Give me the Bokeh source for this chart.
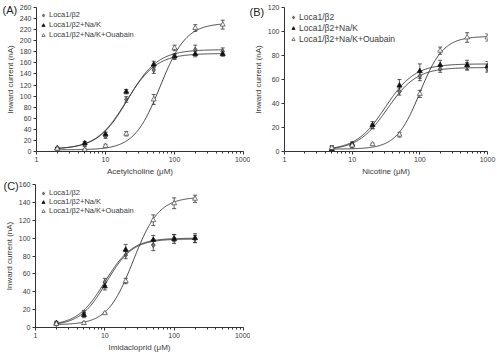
import numpy as np
from bokeh.plotting import figure
from bokeh.layouts import column, row
from bokeh.models import (ColumnDataSource, Whisker, TeeHead, Legend, LegendItem,
                          Title, FixedTicker, NumeralTickFormatter)
from bokeh.embed import file_html
from bokeh.resources import INLINE

# ---------------- data ----------------
series_names = ["Loca1/β2", "Loca1/β2+Na/K", "Loca1/β2+Na/K+Ouabain"]

# Panel A: Acetylcholine
ach_conc = [2, 5, 10, 20, 50, 100, 200, 500]
ach_loca = [5, 12, 27, 94, 147, 170, 184, 181]
ach_loca_err = [2, 3, 3, 5, 6, 4, 8, 6]
ach_nak = [6, 15, 31, 108, 157, 172, 176, 176]
ach_nak_err = [2, 3, 4, 4, 6, 4, 5, 4]
ach_oua = [5, 3, 10, 32, 94, 187, 223, 229]
ach_oua_err = [2, 2, 3, 4, 9, 5, 6, 8]
# Hill fit parameters: bottom, top, EC50, nH
ach_fit = [(4, 184, 21, 2.0), (4, 177, 20, 2.0), (3, 232, 62, 2.3)]

# Panel B: Nicotine
nic_conc = [5, 10, 20, 50, 100, 200, 500, 1000]
nic_loca = [3, 5, 21, 50, 63, 69, 71, 69]
nic_loca_err = [2, 2, 2, 3, 4, 3, 3, 3]
nic_nak = [2, 6, 22, 55, 67, 72, 72, 71]
nic_nak_err = [2, 2, 3, 5, 6, 4, 4, 4]
nic_oua = [3, 5, 6, 14, 48, 84, 95, 95]
nic_oua_err = [1, 1, 1, 2, 3, 3, 4, 3]
nic_fit = [(1, 70, 33, 2.0), (1, 73, 31, 2.0), (2, 96, 100, 2.5)]

# Panel C: Imidacloprid
imi_conc = [2, 5, 10, 20, 50, 100, 200]
imi_loca = [4, 16, 51, 81, 92, 100, 99]
imi_loca_err = [2, 3, 4, 4, 6, 4, 4]
imi_nak = [5, 14, 46, 87, 98, 99, 100]
imi_nak_err = [2, 3, 4, 6, 5, 5, 5]
imi_oua = [4, 5, 16, 52, 120, 139, 144]
imi_oua_err = [1, 1, 1, 3, 6, 6, 4]
imi_fit = [(2, 100, 10, 2.2), (2, 99, 10.5, 2.3), (3, 146, 25.6, 2.35)]

FONT = "Liberation Sans"
TXT = "#3a3a3a"


def hill(x, p):
    b, t, ec, n = p
    return b + (t - b) / (1.0 + (ec / x) ** n)


def make_panel(letter, conc, vals, errs, fits, ymax, ystep, xlabel,
               width, height, mb, letter_off, letter_stand, legend_font,
               legend_spacing, legend_margin, legend_lh):
    p = figure(width=width, height=height, x_axis_type="log",
               x_range=(1, 1000), y_range=(0, ymax),
               output_backend="svg", toolbar_location=None,
               min_border_left=mb[0], min_border_right=mb[1],
               min_border_top=mb[2], min_border_bottom=mb[3])
    p.outline_line_color = None
    p.xgrid.visible = False
    p.ygrid.visible = False
    p.background_fill_color = "white"

    xs = np.logspace(np.log10(conc[0]), np.log10(conc[-1]), 200)
    markers = ["diamond", "triangle", "triangle"]
    fills = ["#777777", "#111111", "white"]
    lines = ["#444444", "#111111", "#555555"]
    items = []
    for i in range(3):
        p.line(xs, hill(xs, fits[i]), line_color="#333333", line_width=0.9)
        v = np.array(vals[i], float)
        e = np.array(errs[i], float)
        src = ColumnDataSource(dict(x=conc, y=v, up=v + e, lo=v - e))
        w = Whisker(source=src, base="x", upper="up", lower="lo",
                    line_color="#333333", line_width=0.8,
                    upper_head=TeeHead(size=4, line_color="#333333", line_width=0.8),
                    lower_head=TeeHead(size=4, line_color="#333333", line_width=0.8))
        p.add_layout(w)
        r = p.scatter("x", "y", source=src, marker=markers[i], size=5,
                      fill_color=fills[i], line_color=lines[i], line_width=0.8)
        items.append(LegendItem(label=series_names[i], renderers=[r]))

    leg = Legend(items=items, location="top_left",
                 label_text_font=FONT, label_text_font_size=legend_font,
                 label_text_color=TXT, background_fill_alpha=0,
                 border_line_color=None, glyph_width=8, glyph_height=8,
                 label_height=legend_lh, spacing=legend_spacing, padding=0,
                 margin=legend_margin, label_standoff=2)
    p.add_layout(leg)

    p.xaxis.ticker = FixedTicker(ticks=[1, 10, 100, 1000],
                                 minor_ticks=[x * d for d in [1, 10, 100] for x in range(2, 10)])
    p.xaxis.formatter = NumeralTickFormatter(format="0")
    p.yaxis.ticker = FixedTicker(ticks=list(range(0, ymax + 1, ystep)))
    for ax in (p.xaxis[0], p.yaxis[0]):
        ax.axis_line_color = "#333333"
        ax.major_tick_line_color = "#333333"
        ax.minor_tick_line_color = "#333333"
        ax.major_tick_out = 3
        ax.major_tick_in = 0
        ax.minor_tick_out = 2
        ax.minor_tick_in = 0
        ax.major_label_text_font = FONT
        ax.major_label_text_font_size = "7px"
        ax.major_label_text_color = TXT
        ax.axis_label_text_font = FONT
        ax.axis_label_text_font_size = "8px"
        ax.axis_label_text_font_style = "normal"
        ax.axis_label_text_color = TXT
        ax.major_label_standoff = 2
        ax.axis_label_standoff = 2
    p.yaxis[0].minor_tick_line_color = None
    p.xaxis.axis_label = xlabel
    p.yaxis.axis_label = "Inward current (nA)"

    t = Title(text=letter, align="left", offset=letter_off, standoff=letter_stand,
              vertical_align="bottom", text_font=FONT, text_font_size="11px",
              text_font_style="normal", text_color="#222222")
    p.add_layout(t, "above")
    return p


pA = make_panel("(A)", ach_conc, [ach_loca, ach_nak, ach_oua],
                [ach_loca_err, ach_nak_err, ach_oua_err], ach_fit,
                260, 20, "Acetylcholine (μM)", 250, 178, (36, 7, 5, 26),
                -34, -16, "7.5px", 1, 3, 8)
pB = make_panel("(B)", nic_conc, [nic_loca, nic_nak, nic_oua],
                [nic_loca_err, nic_nak_err, nic_oua_err], nic_fit,
                120, 20, "Nicotine (μM)", 250, 178, (29, 13, 7, 25),
                -35, -20, "8.5px", 1, 5, 9)
pC = make_panel("(C)", imi_conc, [imi_loca, imi_nak, imi_oua],
                [imi_loca_err, imi_nak_err, imi_oua_err], imi_fit,
                160, 20, "Imidacloprid (μM)", 250, 176, (35, 7, 6, 26),
                -32, -14, "7.5px", 0, 4, 8)

layout = column(row(pA, pB), row(pC))
open("out.html", "w").write(file_html(layout, INLINE))
